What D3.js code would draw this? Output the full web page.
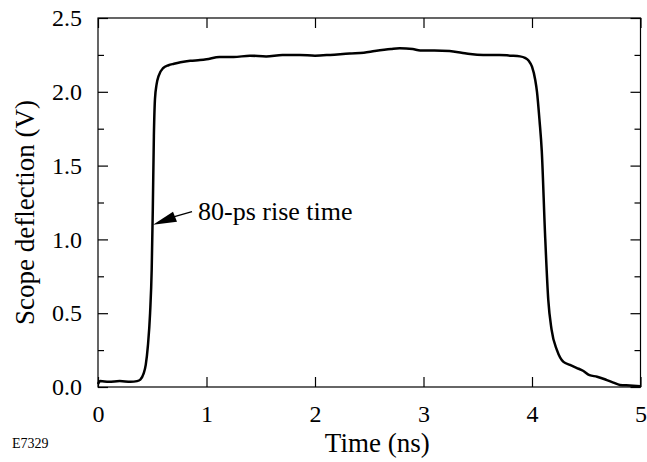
<!DOCTYPE html>
<html>
<head>
<meta charset="utf-8">
<script src="https://cdn.jsdelivr.net/npm/d3@7"></script>
<style>
  html, body { margin: 0; padding: 0; background: #fff; }
  svg { display: block; }
</style>
</head>
<body>
<svg id="chart" width="647" height="462"></svg>
<script>
// ---- data ----
const timeNs = [0, 0.02, 0.1, 0.2, 0.3, 0.36, 0.39, 0.42, 0.44, 0.46, 0.48, 0.495, 0.505, 0.515, 0.525, 0.54, 0.56, 0.6, 0.65, 0.7, 0.76, 0.85, 0.94, 1.0, 1.12, 1.25, 1.4, 1.55, 1.7, 1.86, 2.0, 2.14, 2.32, 2.45, 2.55, 2.7, 2.78, 2.9, 2.97, 3.1, 3.24, 3.35, 3.43, 3.55, 3.7, 3.8, 3.89, 3.935, 3.97, 4.0, 4.03, 4.046, 4.07, 4.09, 4.12, 4.15, 4.18, 4.23, 4.29, 4.35, 4.41, 4.47, 4.53, 4.6, 4.69, 4.75, 4.81, 4.9, 5.0];
const deflectionV = [0.02, 0.04, 0.035, 0.04, 0.035, 0.04, 0.05, 0.09, 0.15, 0.28, 0.5, 0.8, 1.2, 1.7, 1.95, 2.05, 2.11, 2.16, 2.18, 2.19, 2.2, 2.21, 2.215, 2.22, 2.235, 2.235, 2.245, 2.24, 2.25, 2.25, 2.245, 2.25, 2.26, 2.265, 2.276, 2.29, 2.295, 2.29, 2.28, 2.28, 2.276, 2.265, 2.256, 2.25, 2.25, 2.245, 2.24, 2.23, 2.21, 2.17, 2.08, 2.0, 1.8, 1.6, 1.04, 0.59, 0.39, 0.25, 0.17, 0.15, 0.13, 0.11, 0.08, 0.07, 0.047, 0.03, 0.014, 0.01, 0.005];
const xTicks = [0, 1, 2, 3, 4, 5];
const yTicks = [0, 0.5, 1.0, 1.5, 2.0, 2.5];
const yMinorTicks = [0.25, 0.75, 1.25, 1.75, 2.25];
const annotationText = "80-ps rise time";
const annotationPoint = [0.507, 1.1];
const xTitle = "Time (ns)";
const yTitle = "Scope deflection (V)";
const figureId = "E7329";

// ---- layout ----
const FONT = "'Liberation Serif', 'Times New Roman', serif";
const svg = d3.select("#chart");
const m = { left: 98, top: 18, right: 6.5, bottom: 75 };
const W = 647, H = 462;
const x = d3.scaleLinear().domain([0, 5]).range([m.left, W - m.right]);
const y = d3.scaleLinear().domain([0, 2.5]).range([H - m.bottom, m.top]);

const stroke = "#000";
const tickFont = "24px";

// frame
svg.append("rect")
  .attr("x", x(0)).attr("y", y(2.5))
  .attr("width", x(5) - x(0)).attr("height", y(0) - y(2.5))
  .attr("fill", "none").attr("stroke", stroke).attr("stroke-width", 1.2);

function styleAxis(g) {
  g.attr("font-family", null).attr("font-size", null);
  g.select(".domain").remove();
  g.selectAll(".tick line").attr("stroke", stroke).attr("stroke-width", 1.2);
  g.selectAll(".tick text").style("font-family", FONT).style("font-size", tickFont).attr("fill", "#000");
}

// bottom axis (ticks inward)
const gx = svg.append("g").attr("transform", `translate(0,${y(0)})`)
  .call(d3.axisBottom(x).tickValues(xTicks).tickSize(-10).tickPadding(18).tickFormat(d3.format("d")));
styleAxis(gx);
gx.selectAll(".tick text").attr("dy", "0.71em");

// top axis
const gxt = svg.append("g").attr("transform", `translate(0,${y(2.5)})`)
  .call(d3.axisTop(x).tickValues(xTicks).tickSize(-10).tickFormat(""));
styleAxis(gxt);

// left axis
const gy = svg.append("g").attr("transform", `translate(${x(0)},0)`)
  .call(d3.axisLeft(y).tickValues(yTicks).tickSize(-10).tickPadding(16).tickFormat(d3.format(".1f")));
styleAxis(gy);
const gym = svg.append("g").attr("transform", `translate(${x(0)},0)`)
  .call(d3.axisLeft(y).tickValues(yMinorTicks).tickSize(-6).tickFormat(""));
styleAxis(gym);

// right axis
const gyr = svg.append("g").attr("transform", `translate(${x(5)},0)`)
  .call(d3.axisRight(y).tickValues(yTicks).tickSize(-10).tickFormat(""));
styleAxis(gyr);
const gyrm = svg.append("g").attr("transform", `translate(${x(5)},0)`)
  .call(d3.axisRight(y).tickValues(yMinorTicks).tickSize(-6).tickFormat(""));
styleAxis(gyrm);

// trace
const pts = timeNs.map((t, i) => [t, deflectionV[i]]);
svg.append("path")
  .datum(pts)
  .attr("fill", "none")
  .attr("stroke", stroke)
  .attr("stroke-width", 2.5)
  .attr("stroke-linejoin", "round")
  .attr("d", d3.line().x(d => x(d[0])).y(d => y(d[1])).curve(d3.curveMonotoneX));

// annotation arrow
const tipX = x(annotationPoint[0]), tipY = y(annotationPoint[1]);
svg.append("line")
  .attr("x1", tipX + 18).attr("y1", tipY - 7)
  .attr("x2", tipX + 39).attr("y2", tipY - 13)
  .attr("stroke", stroke).attr("stroke-width", 1.5);
svg.append("path")
  .attr("d", `M${tipX},${tipY} L${tipX + 20},${tipY - 13} L${tipX + 24},${tipY - 3} Z`)
  .attr("fill", stroke);
svg.append("text")
  .attr("x", tipX + 45).attr("y", tipY - 5)
  .style("font-family", FONT)
  .style("font-size", "26px")
  .text(annotationText);

// axis titles
svg.append("text")
  .attr("x", (x(0) + x(5)) / 2 + 8).attr("y", 452)
  .attr("text-anchor", "middle")
  .style("font-family", FONT)
  .style("font-size", "27px")
  .text(xTitle);
svg.append("text")
  .attr("transform", `translate(34,${(y(0) + y(2.5)) / 2 + 10}) rotate(-90)`)
  .attr("text-anchor", "middle")
  .style("font-family", FONT)
  .style("font-size", "27px")
  .text(yTitle);

// figure id
svg.append("text")
  .attr("x", 12).attr("y", 448)
  .style("font-family", FONT)
  .style("font-size", "14px")
  .text(figureId);
</script>
</body>
</html>
